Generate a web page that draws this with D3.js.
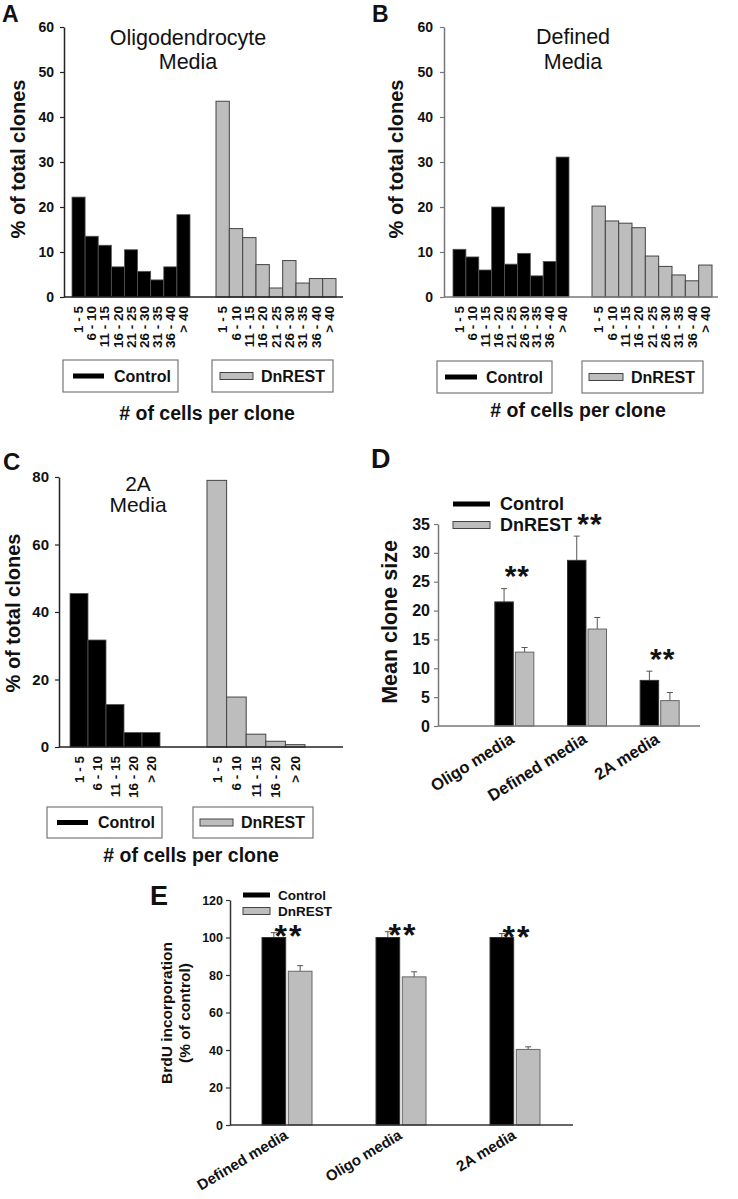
<!DOCTYPE html>
<html>
<head>
<meta charset="utf-8">
<script src="https://cdn.jsdelivr.net/npm/d3@7.9.0/dist/d3.min.js"></script>
<style>
  body { margin: 0; background: #fff; }
  svg { display: block; font-family: "Liberation Sans", Arial, sans-serif; }
</style>
</head>
<body>
<svg id="fig" width="738" height="1199"></svg>
<script>
// histogram bins
const bins40 = ['1 - 5', '6 - 10', '11 - 15', '16 - 20', '21 - 25', '26 - 30', '31 - 35', '36 - 40', '> 40'];
const bins20 = ['1 - 5', '6 - 10', '11 - 15', '16 - 20', '> 20'];

// A - oligodendrocyte media (% of total clones)
const oligoControl = [22.2, 13.5, 11.5, 6.7, 10.5, 5.7, 3.8, 6.7, 18.3];
const oligoDnrest = [43.5, 15.2, 13.2, 7.2, 2.0, 8.1, 3.1, 4.1, 4.1];
// B - defined media
const definedControl = [10.6, 8.9, 6.0, 20.0, 7.3, 9.7, 4.7, 7.9, 31.1];
const definedDnrest = [20.2, 16.9, 16.4, 15.4, 9.1, 6.8, 4.9, 3.6, 7.1];
// C - 2A media
const twoAControl = [45.5, 31.7, 12.6, 4.3, 4.3];
const twoADnrest = [79.0, 14.8, 3.8, 1.7, 0.7];

// D - mean clone size
const cloneMedia = ['Oligo media', 'Defined media', '2A media'];
const cloneControl = [21.5, 28.7, 7.9];
const cloneControlErr = [2.3, 4.2, 1.6];
const cloneDnrest = [12.8, 16.8, 4.4];
const cloneDnrestErr = [0.8, 2.0, 1.4];

// E - BrdU incorporation (% of control)
const brduMedia = ['Defined media', 'Oligo media', '2A media'];
const brduControl = [100, 100, 100];
const brduControlErr = [2.6, 3.1, 2.1];
const brduDnrest = [82, 79, 40.3];
const brduDnrestErr = [3.0, 2.7, 1.4];

const svg = d3.select('#fig');
const GREY = '#bdbdbd';

function txt(g, s, x, y, size, opts = {}) {
  const t = g.append('text')
    .attr('x', x).attr('y', y)
    .attr('font-size', size)
    .attr('font-weight', opts.weight || 'bold')
    .attr('text-anchor', opts.anchor || 'start')
    .attr('fill', '#111')
    .text(s);
  if (opts.dy) t.attr('dy', opts.dy);
  if (opts.rotate) t.attr('transform', `rotate(${opts.rotate},${x},${y})`);
  return t;
}

function leftAxis(g, y, x, ticks, size, color, pad) {
  const ax = g.append('g')
    .attr('transform', `translate(${x},0)`)
    .call(d3.axisLeft(y).tickValues(ticks).tickSize(4).tickSizeOuter(0).tickPadding(pad));
  ax.attr('font-family', null).attr('font-size', size).attr('font-weight', 'bold');
  ax.select('.domain').attr('stroke', color).attr('stroke-width', 1.5);
  ax.selectAll('.tick line').attr('stroke', color).attr('stroke-width', 1.2);
  ax.selectAll('.tick text').attr('fill', '#111');
}

function swatch(g, x, cy, w, kind) {
  if (kind === 'control') {
    g.append('rect').attr('x', x).attr('y', cy - 2.5).attr('width', w).attr('height', 5).attr('fill', '#000');
  } else {
    g.append('rect').attr('x', x).attr('y', cy - 3.5).attr('width', w).attr('height', 7)
      .attr('fill', GREY).attr('stroke', '#444').attr('stroke-width', 1);
  }
}

function legendBox(g, b, kind, label) {
  g.append('rect').attr('x', b.x).attr('y', b.y).attr('width', b.w).attr('height', b.h)
    .attr('fill', '#fff').attr('stroke', '#777').attr('stroke-width', 1.2);
  swatch(g, b.sx, b.y + b.h / 2, b.sw, kind);
  txt(g, label, b.tx, b.y + b.h / 2, 16, { dy: '0.36em' });
}

function histogram(p, bins, ctrl, dn) {
  const g = svg.append('g');
  const y = d3.scaleLinear().domain([0, p.ymax]).range([p.zero, p.top]);
  const xc = d3.scaleBand().domain(bins).range(p.ctrlRange);
  const xd = d3.scaleBand().domain(bins).range(p.dnRange);

  g.selectAll('rect.ctrl').data(ctrl).join('rect')
    .attr('class', 'ctrl')
    .attr('x', (d, i) => xc(bins[i]))
    .attr('width', xc.bandwidth())
    .attr('y', d => y(d))
    .attr('height', d => y(0) - y(d))
    .attr('fill', '#000').attr('stroke', '#555').attr('stroke-width', 0.8);

  g.selectAll('rect.dn').data(dn).join('rect')
    .attr('class', 'dn')
    .attr('x', (d, i) => xd(bins[i]))
    .attr('width', xd.bandwidth())
    .attr('y', d => y(d))
    .attr('height', d => y(0) - y(d))
    .attr('fill', GREY).attr('stroke', '#444').attr('stroke-width', 1);

  g.append('line')
    .attr('x1', p.axisX).attr('x2', p.axisEnd)
    .attr('y1', y(0)).attr('y2', y(0))
    .attr('stroke', p.axisColor).attr('stroke-width', 1.5);
  leftAxis(g, y, p.axisX, d3.range(0, p.ymax + 1, p.step), p.tickSize, p.axisColor, p.pad);

  // rotated bin labels
  [xc, xd].forEach(sc => {
    bins.forEach(b => {
      const cx = sc(b) + sc.bandwidth() / 2;
      txt(g, b, cx, y(0) + 9, 13.5, { anchor: 'end', dy: '0.35em', rotate: -90 });
    });
  });

  p.title.forEach((line, i) => txt(g, line, p.titleX, p.titleY[i], p.titleSize, { anchor: 'middle', weight: 'normal' }));
  legendBox(g, p.legendC, 'control', 'Control');
  legendBox(g, p.legendD, 'dnrest', 'DnREST');
  txt(g, '# of cells per clone', p.xlabX, p.xlabY, 19.5, { anchor: 'middle' });
  txt(g, '% of total clones', p.ylabX, p.ylabY, 20, { anchor: 'middle', rotate: -90 });
  txt(g, p.label, p.labelX, p.labelY, p.labelSize);
}

histogram({
  ymax: 60, step: 10, zero: 297, top: 27, axisX: 64, axisEnd: 343, axisColor: '#222',
  tickSize: 14, pad: 6,
  ctrlRange: [72, 190], dnRange: [216, 336],
  title: ['Oligodendrocyte', 'Media'], titleX: 188, titleY: [45, 69], titleSize: 21.5,
  legendC: { x: 63, y: 360, w: 115, h: 32, sx: 73, sw: 31, tx: 114 },
  legendD: { x: 212, y: 360, w: 121, h: 32, sx: 220, sw: 33, tx: 261 },
  xlabX: 207, xlabY: 420, ylabX: 25, ylabY: 159,
  label: 'A', labelX: 2, labelY: 22, labelSize: 23
}, bins40, oligoControl, oligoDnrest);

histogram({
  ymax: 60, step: 10, zero: 297, top: 27, axisX: 444, axisEnd: 718, axisColor: '#777',
  tickSize: 14, pad: 7,
  ctrlRange: [453, 569], dnRange: [592, 712],
  title: ['Defined', 'Media'], titleX: 573, titleY: [44, 69], titleSize: 21.5,
  legendC: { x: 437, y: 361, w: 115, h: 32, sx: 445, sw: 32, tx: 486 },
  legendD: { x: 582, y: 361, w: 121, h: 32, sx: 589, sw: 34, tx: 631 },
  xlabX: 578, xlabY: 417, ylabX: 403, ylabY: 159,
  label: 'B', labelX: 372, labelY: 22, labelSize: 23
}, bins40, definedControl, definedDnrest);

histogram({
  ymax: 80, step: 20, zero: 747, top: 477, axisX: 59, axisEnd: 343, axisColor: '#222',
  tickSize: 15, pad: 6,
  ctrlRange: [70, 160], dnRange: [207, 305],
  title: ['2A', 'Media'], titleX: 138, titleY: [491, 512], titleSize: 21,
  legendC: { x: 47, y: 807, w: 115, h: 31, sx: 57, sw: 31, tx: 98 },
  legendD: { x: 193, y: 807, w: 120, h: 31, sx: 200, sw: 33, tx: 241 },
  xlabX: 191, xlabY: 862, ylabX: 20, ylabY: 613,
  label: 'C', labelX: 3, labelY: 470, labelSize: 24
}, bins20, twoAControl, twoADnrest);

function grouped(p, media, ctrl, ctrlErr, dn, dnErr) {
  const g = svg.append('g');
  const y = d3.scaleLinear().domain([0, p.ymax]).range([p.zero, p.top]);
  const x = d3.scaleBand().domain(media).range(p.xRange);
  const inner = d3.scaleBand().domain(['control', 'dnrest']).range([-p.half, p.half]).paddingInner(p.gap);
  const series = [
    { key: 'control', vals: ctrl, err: ctrlErr, fill: '#000', stroke: '#333' },
    { key: 'dnrest', vals: dn, err: dnErr, fill: GREY, stroke: '#666' }
  ];

  series.forEach(s => {
    media.forEach((m, i) => {
      const cx = x(m) + x.bandwidth() / 2;
      const bx = cx + inner(s.key);
      const mid = bx + inner.bandwidth() / 2;
      g.append('line')
        .attr('x1', mid).attr('x2', mid)
        .attr('y1', y(s.vals[i])).attr('y2', y(s.vals[i] + s.err[i]))
        .attr('stroke', '#555').attr('stroke-width', 1);
      g.append('line')
        .attr('x1', mid - 3).attr('x2', mid + 3)
        .attr('y1', y(s.vals[i] + s.err[i])).attr('y2', y(s.vals[i] + s.err[i]))
        .attr('stroke', '#555').attr('stroke-width', 1);
      g.append('rect')
        .attr('x', bx).attr('width', inner.bandwidth())
        .attr('y', y(s.vals[i])).attr('height', y(0) - y(s.vals[i]))
        .attr('fill', s.fill).attr('stroke', s.stroke).attr('stroke-width', 1);
    });
  });

  // significance stars
  media.forEach((m, i) => {
    const cx = x(m) + x.bandwidth() / 2;
    const top = Math.max(ctrl[i] + ctrlErr[i], dn[i] + dnErr[i]);
    const cy = y(top) - p.starGap;
    txt(g, '**', cx + p.starDx, cy + 0.58 * p.starSize, p.starSize, { anchor: 'middle' })
      .attr('letter-spacing', p.starSpacing);
  });

  g.append('line')
    .attr('x1', p.axisX).attr('x2', p.axisEnd)
    .attr('y1', y(0)).attr('y2', y(0))
    .attr('stroke', p.axisColor).attr('stroke-width', 1.5);
  leftAxis(g, y, p.axisX, d3.range(0, p.ymax + 1, p.step), p.tickSize, p.axisColor, p.pad);

  media.forEach(m => {
    const cx = x(m) + x.bandwidth() / 2;
    txt(g, m, cx + p.labDx, y(0) + p.labDy, p.labSize, { anchor: 'end', rotate: p.labRot });
  });

  // legend
  swatch(g, p.leg.x, p.leg.y1, p.leg.w, 'control');
  txt(g, 'Control', p.leg.tx, p.leg.y1, p.leg.size, { dy: '0.36em' });
  swatch(g, p.leg.x, p.leg.y2, p.leg.w, 'dnrest');
  txt(g, 'DnREST', p.leg.tx, p.leg.y2, p.leg.size, { dy: '0.36em' });

  p.ylab.forEach((l, i) => txt(g, l, p.ylabX[i], p.ylabY, p.ylabSize, { anchor: 'middle', rotate: -90 }));
  txt(g, p.label, p.labelX, p.labelY, p.labelSize);
}

grouped({
  ymax: 35, step: 5, zero: 726, top: 524, axisX: 438, axisEnd: 700, axisColor: '#777',
  tickSize: 16, pad: 4, xRange: [478, 696], half: 19.5, gap: 0.1,
  starGap: 20, starDx: 3, starSize: 30, starSpacing: 1,
  labDx: 1, labDy: 16, labSize: 16.5, labRot: -32,
  leg: { x: 453, w: 37, tx: 500, y1: 504, y2: 525, size: 18 },
  ylab: ['Mean clone size'], ylabX: [397], ylabY: 622, ylabSize: 21.5,
  label: 'D', labelX: 371, labelY: 468, labelSize: 27
}, cloneMedia, cloneControl, cloneControlErr, cloneDnrest, cloneDnrestErr);

grouped({
  ymax: 120, step: 20, zero: 1125, top: 900, axisX: 230, axisEnd: 573, axisColor: '#333',
  tickSize: 12.5, pad: 3, xRange: [230, 572], half: 25, gap: 0.1,
  starGap: 4, starDx: 2, starSize: 32, starSpacing: 2,
  labDx: 2, labDy: 13, labSize: 15, labRot: -31,
  leg: { x: 243, w: 27, tx: 278, y1: 895, y2: 911, size: 13.5 },
  ylab: ['BrdU incorporation', '(% of control)'], ylabX: [172, 190], ylabY: 1013, ylabSize: 15.5,
  label: 'E', labelX: 150, labelY: 905, labelSize: 27
}, brduMedia, brduControl, brduControlErr, brduDnrest, brduDnrestErr);
</script>
</body>
</html>
